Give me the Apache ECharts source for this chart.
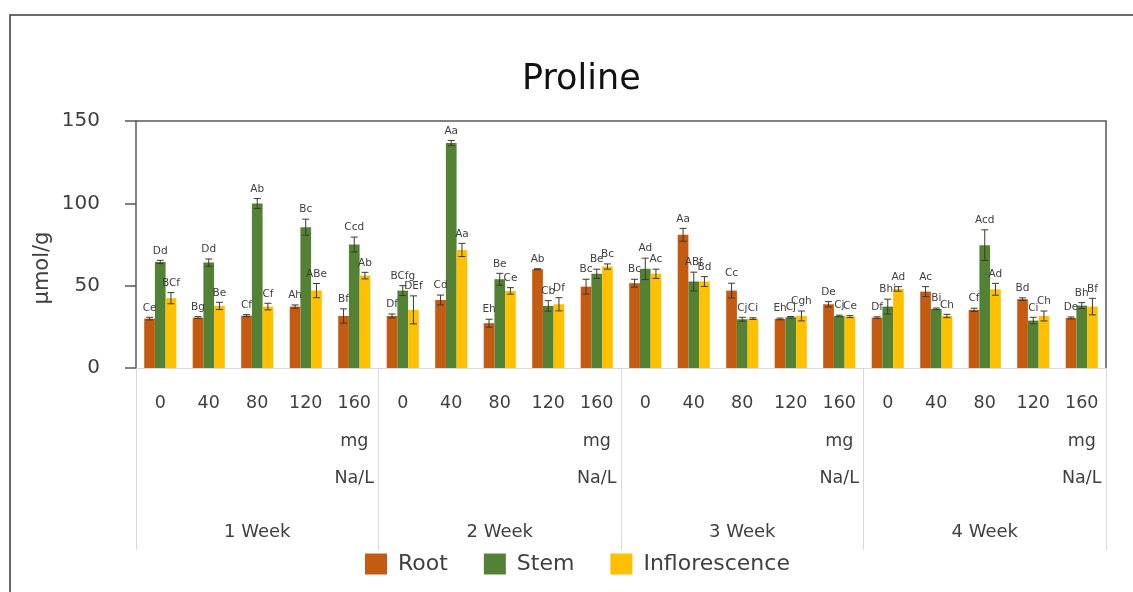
<!DOCTYPE html>
<html>
<head>
<meta charset="utf-8">
<script src="https://cdn.jsdelivr.net/npm/echarts@6/dist/echarts.min.js"></script>
<style>html,body{margin:0;padding:0;background:#fff}#c{width:1133px;height:592px}</style>
</head>
<body>
<div id="c"></div>
<script>
const doses = ['0', '40', '80', '120', '160\nmg\nNa/L'];
const weeks = ['1 Week', '2 Week', '3 Week', '4 Week'];
const categories = [].concat(doses, doses, doses, doses);
const yTicks = [0, 50, 100, 150];

const rootValues = [30, 30.6, 31.8, 37.3, 31.6, 31.6, 41.3, 27.2, 60, 49.4, 51.5, 80.9, 47, 29.8, 38.7, 30.6, 46.4, 35.3, 41.8, 30.4];
const rootErrors = [0.8, 0.6, 0.6, 1, 4.3, 1.2, 3, 2.4, 0.3, 4.5, 2.4, 3.9, 4.5, 0.5, 1.6, 0.5, 3, 1, 0.8, 0.6];
const rootLetters = ['Ce','Bg','Cf','Ah','Bf','Df','Cd','Eh','Ab','Bc','Bc','Aa','Cc','Eh','De','Df','Ac','Cf','Bd','De'];

const stemValues = [64.4, 64, 99.9, 85.5, 75, 47, 136.6, 53.9, 37.7, 57.2, 60.2, 52.5, 29.6, 30.8, 31.6, 37.3, 35.9, 74.6, 28.8, 37.9];
const stemErrors = [1, 2.2, 3, 4.9, 4.5, 3, 1.6, 3.6, 3.2, 2.8, 6.5, 5.7, 1.2, 0.5, 0.5, 4.5, 0.5, 9.3, 2, 1.8];
const stemLetters = ['Dd','Dd','Ab','Bc','Ccd','BCfg','Aa','Be','Cb','Be','Ad','ABf','Cj','Cj','Cj','Bhi','Bi','Acd','Ci','Bh'];

const inflValues = [42.4, 37.7, 37.3, 47, 56.1, 35.3, 71.7, 46.8, 38.7, 61.6, 57.2, 52.5, 30, 31.6, 31.2, 48, 31.6, 47.8, 31.6, 37.3];
const inflErrors = [3.4, 2.2, 2, 4.3, 2, 8.5, 4, 2, 4, 1.6, 2.8, 3, 0.5, 3, 0.6, 1.4, 1, 3.6, 3, 5];
const inflLetters = ['BCf','Be','Cf','ABe','Ab','DEf','Aa','Ce','Df','Bc','Ac','Bd','Ci','Cgh','Ce','Ad','Ch','Ad','Ch','Bf'];

const seriesNames = ['Root', 'Stem', 'Inflorescence'];
const seriesColors = ['#C55A11', '#548235', '#FFC000'];
const allValues = [rootValues, stemValues, inflValues];
const allErrors = [rootErrors, stemErrors, inflErrors];
const allLetters = [rootLetters, stemLetters, inflLetters];

const BAR_W = 10.7;
const FONT = 'DejaVu Sans';

const chart = echarts.init(document.getElementById('c'), null, {renderer: 'canvas'});

function errSeries(k) {
  const data = allValues[k].map((v, i) => [i, v, allErrors[k][i], allLetters[k][i]]);
  return {
    type: 'custom',
    xAxisIndex: 0, yAxisIndex: 0,
    z: 5,
    silent: true,
    data: data,
    renderItem: function (params, api) {
      const i = api.value(0), v = api.value(1), e = api.value(2);
      const letter = data[params.dataIndex][3];
      const top = api.coord([i, v + e]);
      const bot = api.coord([i, v - e]);
      const x = top[0] + (k - 1) * BAR_W;
      const cap = 3.5;
      const stroke = {stroke: '#3a3a30', lineWidth: 1};
      return {
        type: 'group',
        children: [
          {type: 'line', shape: {x1: x, y1: top[1], x2: x, y2: bot[1]}, style: stroke},
          {type: 'line', shape: {x1: x - cap, y1: top[1], x2: x + cap, y2: top[1]}, style: stroke},
          {type: 'line', shape: {x1: x - cap, y1: bot[1], x2: x + cap, y2: bot[1]}, style: stroke},
          {type: 'text', style: {text: letter, x: x, y: top[1] - 4, align: 'center', verticalAlign: 'bottom',
            fontSize: 10.5, fontFamily: FONT, fill: '#404040'}}
        ]
      };
    }
  };
}

const barSeries = seriesNames.map((name, k) => ({
  name: name,
  type: 'bar',
  xAxisIndex: 0, yAxisIndex: 0,
  data: allValues[k],
  barWidth: BAR_W,
  barGap: '0%',
  itemStyle: {color: seriesColors[k]}
}));

const option = {
  backgroundColor: '#fff',
  animation: false,
  textStyle: {fontFamily: FONT},
  title: {
    text: 'Proline', left: 517, top: 57,
    textStyle: {fontSize: 35, fontWeight: 'normal', color: '#111', fontFamily: FONT}
  },
  legend: {
    data: seriesNames,
    left: 360, top: 548,
    itemWidth: 22, itemHeight: 21, itemGap: 36,
    icon: 'rect',
    textStyle: {fontSize: 22, color: '#404040', fontFamily: FONT, padding: [0, 0, 0, 6]}
  },
  grid: {left: 136, right: 27, top: 121, bottom: 224, containLabel: false},
  graphic: [
    {type: 'rect', shape: {x: 10, y: 15, width: 1400, height: 800}, style: {fill: 'none', stroke: '#3a3a3a', lineWidth: 1.5}, z: -10},
    {type: 'text', x: 43, y: 268, rotation: Math.PI / 2,
      style: {text: 'µmol/g', align: 'center', verticalAlign: 'middle', fontSize: 21, fontFamily: FONT, fill: '#404040'}}
  ],
  xAxis: [
    {
      type: 'category', data: categories, position: 'bottom',
      axisLine: {show: true, lineStyle: {color: '#d9d9d9', width: 1}},
      axisTick: {show: false},
      axisLabel: {interval: 0, margin: 17, fontSize: 17.5, lineHeight: 37.5, color: '#404040', fontFamily: FONT, verticalAlign: 'top'},
      splitLine: {show: false}
    },
    {
      type: 'category', data: weeks, position: 'bottom', offset: 0,
      axisLine: {show: false},
      axisTick: {show: true, length: 182, interval: 0, lineStyle: {color: '#d9d9d9', width: 1}},
      axisLabel: {interval: 0, margin: 155, fontSize: 18, color: '#404040', fontFamily: FONT},
      splitLine: {show: false}
    },
    {
      type: 'category', data: weeks, position: 'top',
      axisLine: {show: true, lineStyle: {color: '#595959', width: 1.5}},
      axisTick: {show: false}, axisLabel: {show: false}, splitLine: {show: false}
    }
  ],
  yAxis: [
    {
      type: 'value', min: yTicks[0], max: yTicks[yTicks.length - 1], interval: 50,
      axisLine: {show: true, lineStyle: {color: '#595959', width: 1.5}},
      axisTick: {show: true, length: 11, lineStyle: {color: '#595959', width: 1.5}},
      axisLabel: {margin: 36, fontSize: 20, color: '#404040', fontFamily: FONT},
      splitLine: {show: false}
    },
    {
      type: 'value', position: 'right', min: yTicks[0], max: yTicks[yTicks.length - 1], interval: 50,
      axisLine: {show: true, lineStyle: {color: '#595959', width: 1.5}},
      axisTick: {show: false}, axisLabel: {show: false}, splitLine: {show: false}
    }
  ],
  series: barSeries.concat([errSeries(0), errSeries(1), errSeries(2)])
};
chart.setOption(option);
</script>
</body>
</html>
